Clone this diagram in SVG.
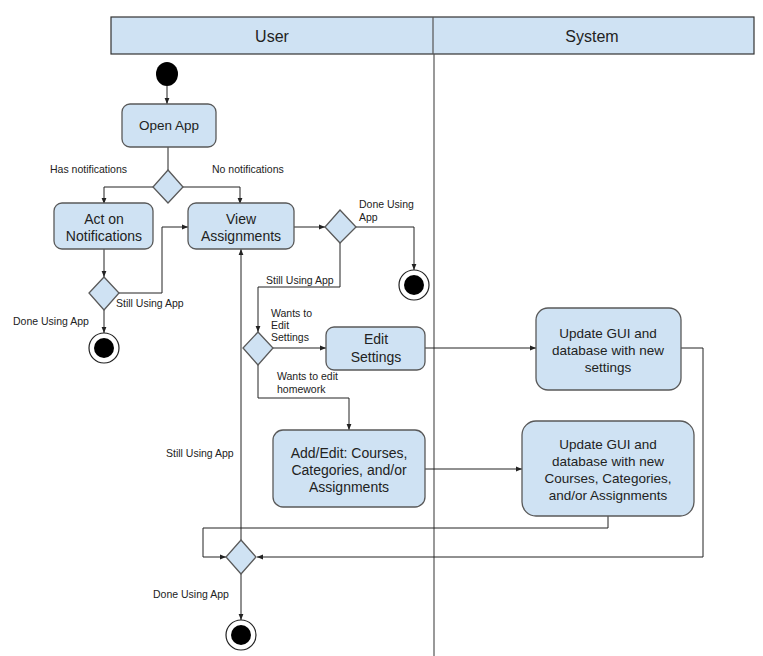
<svg xmlns="http://www.w3.org/2000/svg" width="763" height="656" viewBox="0 0 763 656">
<style>
.node{fill:#cfe2f3;stroke:#595959;stroke-width:1.3}
.hdr{fill:#cfe2f3;stroke:#333;stroke-width:1.2}
.t{font-family:"Liberation Sans",Arial,sans-serif;font-size:14px;fill:#222;text-anchor:middle}
.s{font-family:"Liberation Sans",Arial,sans-serif;font-size:13.5px;fill:#222;text-anchor:middle}
.h{font-family:"Liberation Sans",Arial,sans-serif;font-size:16px;fill:#222;text-anchor:middle}
.l{font-family:"Liberation Sans",Arial,sans-serif;font-size:10.5px;fill:#222}
.c{fill:none;stroke:#222;stroke-width:1;marker-end:url(#a)}
.cn{fill:none;stroke:#222;stroke-width:1}
.lane{stroke:#555;stroke-width:1.2}
</style>
<defs>
<marker id="a" viewBox="0 0 10 10" refX="10" refY="5" markerWidth="6" markerHeight="6" orient="auto" markerUnits="userSpaceOnUse">
<path d="M0,1 L10,5 L0,9 z" fill="#222"/>
</marker>
</defs>
<rect width="763" height="656" fill="#fff"/>
<g id="lanes">
<rect class="hdr" x="111" y="17" width="643" height="37"/>
<line class="lane" x1="433" y1="17" x2="433" y2="54"/>
<line class="lane" x1="434" y1="54" x2="434" y2="656"/>
<text class="h" x="272" y="42">User</text>
<text class="h" x="592" y="42">System</text>
</g>
<g id="connectors">
<path class="c" d="M167,86 V104"/>
<path class="cn" d="M168,147 V170"/>
<path class="c" d="M153,187 H104 V204"/>
<path class="c" d="M183,187 H240 V204"/>
<path class="c" d="M104,249 V277"/>
<path class="c" d="M118,293 H162 V227 H188"/>
<path class="c" d="M104,310 V333"/>
<path class="c" d="M294,227 H325"/>
<path class="c" d="M356,227 H414 V270"/>
<path class="c" d="M340,243 V287 H258 V332"/>
<path class="c" d="M273,348 H326"/>
<path class="c" d="M258,365 V398 H349 V430"/>
<path class="c" d="M425,348 H536"/>
<path class="c" d="M425,469 H522"/>
<path class="c" d="M681,348 H703 V557 H257"/>
<path class="c" d="M608,516 V528 H203 V557 H226"/>
<path class="c" d="M241,540 V249"/>
<path class="c" d="M241,574 V620"/>
<text class="l" x="50" y="173">Has notifications</text>
<text class="l" x="212" y="173">No notifications</text>
<text class="l" x="116" y="307">Still Using App</text>
<text class="l" x="13" y="325">Done Using App</text>
<text class="l" x="359" y="208">Done Using</text>
<text class="l" x="359" y="221">App</text>
<text class="l" x="266" y="284">Still Using App</text>
<text class="l" x="271" y="317">Wants to</text>
<text class="l" x="271" y="329">Edit</text>
<text class="l" x="271" y="341">Settings</text>
<text class="l" x="277" y="380">Wants to edit</text>
<text class="l" x="277" y="393">homework</text>
<text class="l" x="166" y="457">Still Using App</text>
<text class="l" x="153" y="598">Done Using App</text>
</g>
<g id="start"><ellipse cx="167" cy="74" rx="11" ry="12" fill="#000"/></g>
<g id="openApp"><rect class="node" x="122" y="104" width="94" height="43" rx="8"/><text class="s" x="169" y="130">Open App</text></g>
<g id="d1"><path class="node" d="M168,170 L183,187 L168,203 L153,187 z"/></g>
<g id="actNotif"><rect class="node" x="54" y="203" width="99" height="46" rx="8"/><text class="t" x="104" y="224">Act on</text><text class="t" x="104" y="241">Notifications</text></g>
<g id="viewAssign"><rect class="node" x="188" y="203" width="106" height="46" rx="8"/><text class="t" x="241" y="224">View</text><text class="t" x="241" y="241">Assignments</text></g>
<g id="d2"><path class="node" d="M104,277 L119,293 L104,310 L89,293 z"/></g>
<g id="end1"><circle cx="104" cy="348" r="15" fill="#fff" stroke="#222" stroke-width="1.2"/><circle cx="104" cy="348" r="10" fill="#000"/></g>
<g id="d3"><path class="node" d="M340,210 L356,227 L340,243 L325,227 z"/></g>
<g id="end2"><circle cx="414" cy="285" r="15" fill="#fff" stroke="#222" stroke-width="1.2"/><circle cx="414" cy="285" r="10" fill="#000"/></g>
<g id="d4"><path class="node" d="M258,332 L273,348 L258,365 L243,348 z"/></g>
<g id="editSettings"><rect class="node" x="326" y="327" width="99" height="43" rx="8"/><text class="t" x="376" y="344">Edit</text><text class="t" x="376" y="362">Settings</text></g>
<g id="addEdit"><rect class="node" x="273" y="430" width="152" height="77" rx="10"/><text class="t" x="349" y="458">Add/Edit: Courses,</text><text class="t" x="349" y="475">Categories, and/or</text><text class="t" x="349" y="492">Assignments</text></g>
<g id="update1"><rect class="node" x="536" y="308" width="145" height="82" rx="12"/><text class="s" x="608" y="338">Update GUI and</text><text class="s" x="608" y="355">database with new</text><text class="s" x="608" y="372">settings</text></g>
<g id="update2"><rect class="node" x="522" y="421" width="172" height="95" rx="14"/><text class="s" x="608" y="449">Update GUI and</text><text class="s" x="608" y="466">database with new</text><text class="s" x="608" y="483">Courses, Categories,</text><text class="s" x="608" y="500">and/or Assignments</text></g>
<g id="d5"><path class="node" d="M241,540 L256,557 L241,574 L226,557 z"/></g>
<g id="end3"><circle cx="241" cy="635" r="15" fill="#fff" stroke="#222" stroke-width="1.2"/><circle cx="241" cy="635" r="10" fill="#000"/></g>
</svg>
